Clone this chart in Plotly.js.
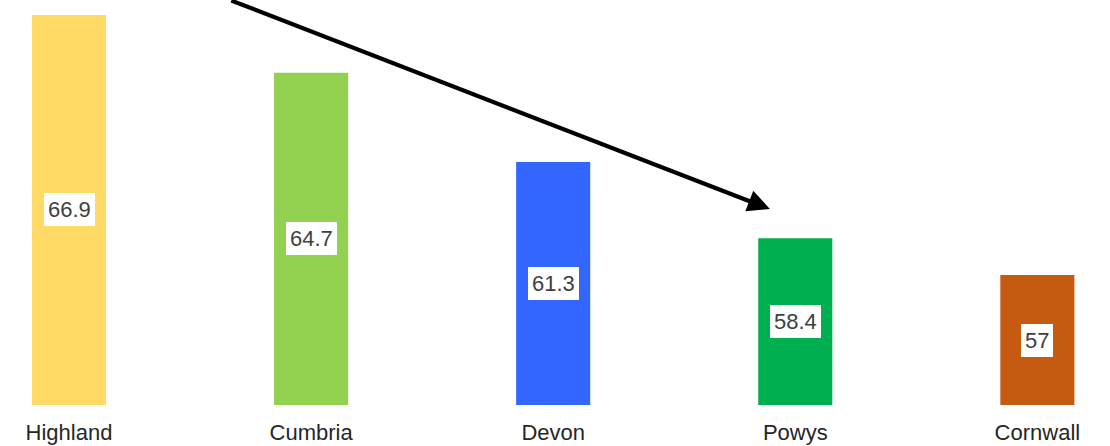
<!DOCTYPE html>
<html>
<head>
<meta charset="utf-8">
<script src="https://cdn.plot.ly/plotly-3.0.1.min.js"></script>
<style>
  html, body { margin: 0; padding: 0; background: #ffffff; }
  #chart { width: 1110px; height: 446px; }
</style>
</head>
<body>
<div id="chart"></div>
<script>
const categories = ["Highland", "Cumbria", "Devon", "Powys", "Cornwall"];
const values = [66.9, 64.7, 61.3, 58.4, 57];
const barColors = ["#FFD966", "#92D050", "#3366FF", "#00B050", "#C55A11"];
const yMin = 52.05;
const yMax = 67.47;

const trace = {
  type: "bar",
  x: categories,
  y: values,
  width: 0.306,
  marker: { color: barColors, line: { width: 0 } },
  hoverinfo: "x+y",
  showlegend: false
};

const labelAnnotations = categories.map((c, i) => ({
  x: c,
  y: (yMin + values[i]) / 2,
  xref: "x",
  yref: "y",
  text: String(values[i]),
  showarrow: false,
  bgcolor: "#ffffff",
  borderpad: 4,
  borderwidth: 0,
  font: { family: "Liberation Sans, Arial, sans-serif", size: 22, color: "#404040" }
}));

// Arrow pointing down toward Powys
const arrowAnnotation = {
  x: 2.895,
  y: yMin + (405 - 209) / 26.263,
  xref: "x",
  yref: "y",
  ax: -540,
  ay: -215,
  axref: "pixel",
  ayref: "pixel",
  text: "",
  showarrow: true,
  arrowhead: 2,
  arrowsize: 1.05,
  arrowwidth: 4.2,
  arrowcolor: "#000000",
  standoff: 0
};

const layout = {
  width: 1110,
  height: 446,
  margin: { l: 0, r: 0, t: 0, b: 41, pad: 0 },
  paper_bgcolor: "#ffffff",
  plot_bgcolor: "#ffffff",
  xaxis: {
    type: "category",
    range: [-0.285, 4.30],
    showgrid: false,
    zeroline: false,
    showline: false,
    ticks: "",
    ticklabelstandoff: 12,
    tickfont: { family: "Liberation Sans, Arial, sans-serif", size: 22, color: "#262626" }
  },
  yaxis: {
    range: [yMin, yMax],
    visible: false,
    showgrid: false,
    zeroline: false
  },
  annotations: labelAnnotations.concat([arrowAnnotation])
};

Plotly.newPlot("chart", [trace], layout, { displayModeBar: false, staticPlot: true });
</script>
</body>
</html>
